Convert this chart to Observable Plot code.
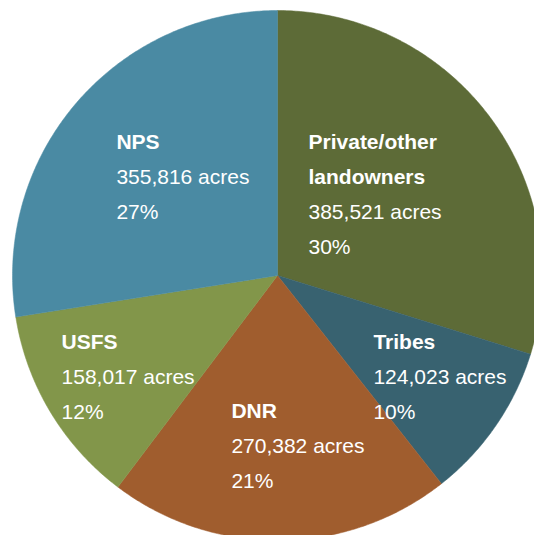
<!DOCTYPE html>
<html>
<head>
<meta charset="utf-8">
<script src="https://cdn.jsdelivr.net/npm/d3@7"></script>
<script src="https://cdn.jsdelivr.net/npm/@observablehq/plot@0.6"></script>
<style>
  html, body { margin: 0; padding: 0; background: #fff; }
  #chart svg { display: block; }
</style>
</head>
<body>
<div id="chart"></div>
<script>
// ---- data ----
const owners = ["Private/other landowners", "Tribes", "DNR", "USFS", "NPS"];
const nameLines = [["Private/other", "landowners"], ["Tribes"], ["DNR"], ["USFS"], ["NPS"]];
const acres = [385521, 124023, 270382, 158017, 355816];
const percents = ["30%", "10%", "21%", "12%", "27%"];
const colors = ["#5d6b37", "#386270", "#a05d2e", "#82964a", "#4a8aa3"];

// ---- layout (label anchors in radius units: left edge, first baseline) ----
const labelAnchors = [[0.117, 0.479], [0.362, -0.279], [-0.174, -0.536], [-0.815, -0.279], [-0.608, 0.479]];
const lineStep = 35 / 265;

// slices from d3.pie (clockwise from 12 o'clock, in given order)
const pie = d3.pie().sort(null).value(d => d)(acres);
const slicePts = [];
pie.forEach((p, i) => {
  const a0 = p.startAngle, a1 = p.endAngle;
  const n = Math.max(2, Math.ceil((a1 - a0) / (Math.PI / 360)));
  slicePts.push({k: i, x: 0, y: 0, c: colors[i]});
  for (let j = 0; j <= n; j++) {
    const a = a0 + (a1 - a0) * j / n;
    slicePts.push({k: i, x: Math.sin(a), y: Math.cos(a), c: colors[i]});
  }
  slicePts.push({k: i, x: 0, y: 0, c: colors[i]});
});

const fmt = d3.format(",");
const textRows = [];
owners.forEach((o, i) => {
  const [ax, ay] = labelAnchors[i];
  const lines = [
    ...nameLines[i].map(t => ({t, bold: true})),
    {t: fmt(acres[i]) + " acres", bold: false},
    {t: percents[i], bold: false}
  ];
  lines.forEach((l, j) => textRows.push({x: ax, y: ay - j * lineStep, t: l.t, bold: l.bold}));
});

const chart = Plot.plot({
  width: 534,
  height: 535,
  margin: 0,
  x: {domain: [-1, 1], range: [12, 542], axis: null},
  y: {domain: [-1, 1], range: [540, 10], axis: null},
  style: {background: "#fff", fontFamily: "'Liberation Sans', Arial, sans-serif"},
  marks: [
    Plot.line(slicePts, {x: "x", y: "y", z: "k", fill: "c", stroke: "c", strokeWidth: 0.5, curve: "linear"}),
    Plot.text(textRows.filter(d => d.bold), {x: "x", y: "y", text: "t", textAnchor: "start", lineAnchor: "bottom", fill: "white", fontSize: 21, fontWeight: "bold"}),
    Plot.text(textRows.filter(d => !d.bold), {x: "x", y: "y", text: "t", textAnchor: "start", lineAnchor: "bottom", fill: "white", fontSize: 21})
  ]
});
document.getElementById("chart").appendChild(chart);
</script>
</body>
</html>
